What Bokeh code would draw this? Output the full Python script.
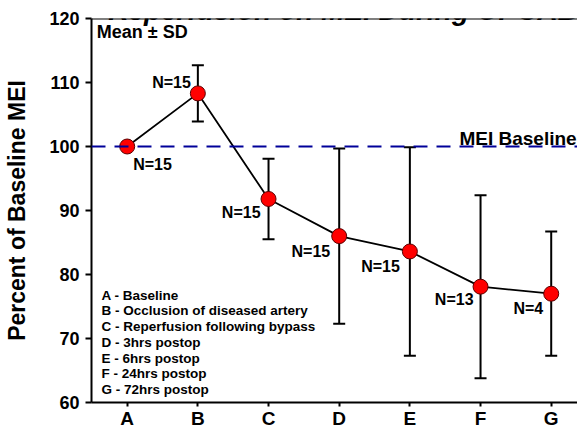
from bokeh.plotting import figure
from bokeh.models import ColumnDataSource, Range1d, FixedTicker, Span, Label, Whisker, TeeHead
from bokeh.core.properties import value
from bokeh.embed import file_html
from bokeh.resources import INLINE

# ---- data ----
title_text = "Reperfusion on MEI During OPCAB"
y_label_text = "Percent of Baseline MEI"
categories = ["A", "B", "C", "D", "E", "F", "G"]
descriptions = ["Baseline", "Occlusion of diseased artery", "Reperfusion following bypass",
                "3hrs postop", "6hrs postop", "24hrs postop", "72hrs postop"]
mean_pct = [100.0, 108.3, 91.8, 86.0, 83.6, 78.1, 77.0]
sd_pct = [0.0, 4.4, 6.3, 13.7, 16.3, 14.3, 9.7]
n_subjects = [15, 15, 15, 15, 15, 13, 4]
y_ticks = [60, 70, 80, 90, 100, 110, 120]
baseline_pct = 100

# ---- layout (not data) ----
FONT = "Liberation Sans"
n_label_dx = [6, -7, -8, -9, -10, -7, -8]
n_label_dy = [18, -11, 14, 15, 15, 13, 15]
n_label_align = ["left", "right", "right", "right", "right", "right", "right"]

x_pos = list(range(1, len(categories) + 1))

p = figure(width=577, height=431, x_range=Range1d(0.495, 7.372), y_range=Range1d(60, 120),
           output_backend="svg", toolbar_location=None,
           min_border_left=91, min_border_right=0, min_border_top=18, min_border_bottom=28)
p.outline_line_color = None
p.grid.visible = False
p.background_fill_color = "white"
p.border_fill_color = "white"

# x axis
xa = p.xaxis[0]
xa.ticker = FixedTicker(ticks=x_pos)
xa.major_label_overrides = {float(x): c for x, c in zip(x_pos, categories)}
xa.axis_line_width = 2
xa.major_tick_in = 0
xa.major_tick_out = 4
xa.major_tick_line_width = 2
xa.minor_tick_line_color = None
xa.major_label_text_font = FONT
xa.major_label_text_font_style = "bold"
xa.major_label_text_font_size = "19px"
xa.major_label_text_color = "black"
xa.major_label_standoff = 1

# y axis
ya = p.yaxis[0]
ya.ticker = FixedTicker(ticks=y_ticks)
ya.axis_line_width = 2
ya.major_tick_in = 0
ya.major_tick_out = 6
ya.major_tick_line_width = 2
ya.minor_tick_line_color = None
ya.major_label_text_font = FONT
ya.major_label_text_font_style = "bold"
ya.major_label_text_font_size = "18px"
ya.major_label_text_color = "black"
ya.major_label_standoff = 6
ya.axis_label = y_label_text
ya.axis_label_text_font = FONT
ya.axis_label_text_font_style = "bold"
ya.axis_label_text_font_size = "23px"
ya.axis_label_text_color = "black"
ya.axis_label_standoff = 16

# top frame line
p.add_layout(Span(location=y_ticks[-1], dimension="width", line_color="black", line_width=2))
# baseline dashed
p.add_layout(Span(location=baseline_pct, dimension="width", line_color="#000099",
                  line_width=2, line_dash="14 9"))

# connecting line
p.line(x_pos, mean_pct, line_color="black", line_width=1.8)

# error bars
wx = [x for x, s in zip(x_pos, sd_pct) if s > 0]
wu = [m + s for m, s in zip(mean_pct, sd_pct) if s > 0]
wl = [m - s for m, s in zip(mean_pct, sd_pct) if s > 0]
wsrc = ColumnDataSource(dict(x=wx, upper=wu, lower=wl))
p.add_layout(Whisker(base="x", upper="upper", lower="lower", source=wsrc, level="underlay",
                     line_color="black", line_width=2,
                     upper_head=TeeHead(size=12, line_width=2, line_color="black"),
                     lower_head=TeeHead(size=12, line_width=2, line_color="black")))

# points
p.scatter(x_pos, mean_pct, size=15, fill_color="#ff0000", line_color="#5a0000", line_width=1)

# N labels
nsrc = ColumnDataSource(dict(x=x_pos, y=mean_pct, label=[f"N={n}" for n in n_subjects],
                             dx=n_label_dx, dy=n_label_dy, align=n_label_align))
p.text(x="x", y="y", text="label", source=nsrc, x_offset="dx", y_offset="dy",
       text_align="align", text_baseline="middle", text_font=value(FONT),
       text_font_style="bold", text_font_size="16px", text_color="black")

# legend text block
legend_text = "\n".join(f"{c} - {d}" for c, d in zip(categories, descriptions))
p.add_layout(Label(x=0.637, y=60.85, text=legend_text, text_font=FONT, text_font_style="bold",
                   text_font_size="13.5px", text_line_height=1.05, text_baseline="bottom",
                   text_align="left", text_color="black"))

p.add_layout(Label(x=0.57, y=119.44, text="Mean ± SD", text_font=FONT, text_font_style="bold",
                   text_font_size="18px", text_baseline="top", text_align="left",
                   text_color="black"))

p.add_layout(Label(x=7.36, y=101.25, text="MEI Baseline", text_font=FONT,
                   text_font_style="bold", text_font_size="19px", text_baseline="alphabetic",
                   text_align="right", text_color="black"))

p.add_layout(Label(x=4.054, y=121.32, text=title_text, text_font=FONT,
                   text_font_style="bold italic", text_font_size="28px",
                   text_baseline="alphabetic", text_align="center", text_color="black"))

open("out.html", "w").write(file_html(p, INLINE))
